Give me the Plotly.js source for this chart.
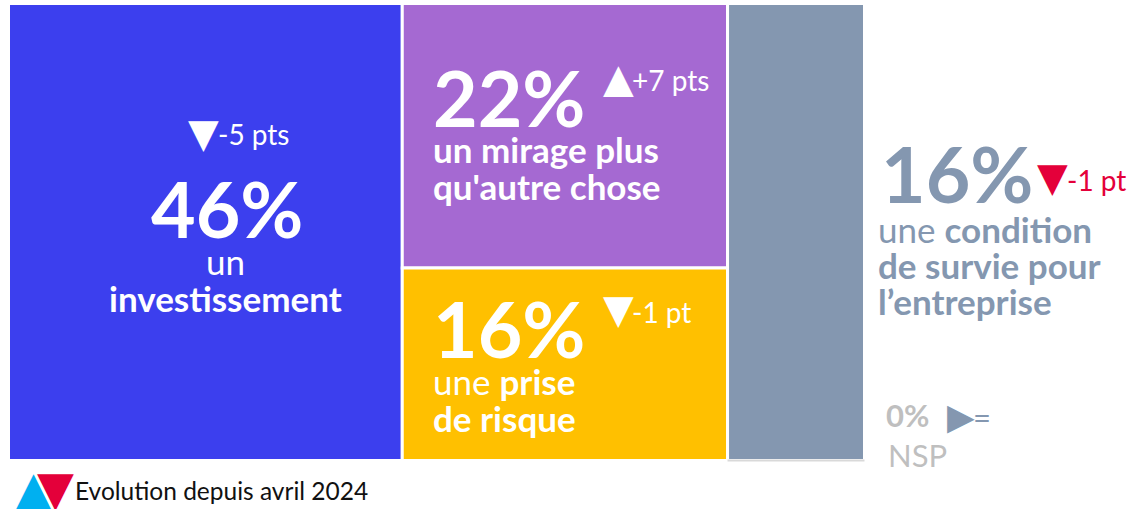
<!DOCTYPE html>
<html><head><meta charset="utf-8">
<script src="https://cdn.plot.ly/plotly-3.0.1.min.js"></script>
<style>html,body{margin:0;padding:0;background:#fff}</style>
</head><body><div id="chart" style="width:1133px;height:509px"></div>
<script>
// ---------------- DATA ----------------
const categories = ['un investissement', "un mirage plus qu'autre chose", 'une prise de risque', 'une condition de survie pour l’entreprise', 'NSP'];
const values = [46, 22, 16, 16, 0];
const changes = ['-5 pts', '+7 pts', '-1 pt', '-1 pt', '='];
const trends = ['down', 'up', 'down', 'down', 'flat'];
const columns = [0, 1, 1, 2, 2];
const labelLines = [
  ['un', '<b>investissement</b>'],
  ['<b>un mirage plus</b>', "<b>qu'autre chose</b>"],
  ['une <b>prise</b>', '<b>de risque</b>'],
  ['une <b>condition</b>', '<b>de survie pour</b>', '<b>l’entreprise</b>'],
  ['NSP']
];
const legendLabel = 'Evolution depuis avril 2024';

// ---------------- STYLE ----------------
const tileColors = ['#3C3FEE', '#A569D2', '#FFC000', '#8497B0', '#FFFFFF'];
const slate = '#8497B0', red = '#E4003A', cyan = '#00B0F0', light = '#BFBFBF';
const W = 1133, H = 509;
const plotPx = {x0: 8.5, x1: 864.5, top: 3.5, bottom: 460.5};
const LATO = 'Lato, "Open Sans", sans-serif';
const DJV = '"DejaVu Sans", sans-serif';

// ---------------- GEOMETRY (from data) ----------------
const colTotals = [0, 0, 0];
values.forEach((v, i) => colTotals[columns[i]] += v);
const colStarts = [];
let acc = 0;
colTotals.forEach(t => { colStarts.push(acc); acc += t; });
const total = acc;
const colFill = [100, 100, 100];
const tiles = values.map((v, i) => {
  const c = columns[i];
  const share = v / colTotals[c] * 100;
  const top = colFill[c];
  colFill[c] -= share;
  return {x0: colStarts[c], x1: colStarts[c] + colTotals[c], top: top, base: top - share, share: share};
});

const kx = (plotPx.x1 - plotPx.x0) / total;
const ky = (plotPx.bottom - plotPx.top) / 100;
const xrange = [-plotPx.x0 / kx, (W - plotPx.x0) / kx];
const yrange = [-(H - plotPx.bottom) / ky, 100 + plotPx.top / ky];

const barIdx = values.map((v, i) => i).filter(i => values[i] > 0);
const bars = {
  type: 'bar',
  x: barIdx.map(i => (tiles[i].x0 + tiles[i].x1) / 2),
  width: barIdx.map(i => tiles[i].x1 - tiles[i].x0),
  base: barIdx.map(i => tiles[i].base),
  y: barIdx.map(i => tiles[i].share),
  text: barIdx.map(i => categories[i]),
  hoverinfo: 'text',
  textposition: 'none',
  marker: {color: barIdx.map(i => tileColors[i]), line: {color: '#FFFFFF', width: 3}},
  showlegend: false
};
// zero-valued NSP tile: drawn as a thin rule at its base
const nsp = tiles[4];
const nspLine = {
  type: 'scatter', mode: 'lines',
  x: [nsp.x0, nsp.x1], y: [nsp.base, nsp.base],
  line: {color: '#D9D9D9', width: 2}, hoverinfo: 'skip', showlegend: false
};

// ---------------- TEXT ----------------
const anns = [];
// single-line text: anchor at data point (x,y), dx px right, baseline dy px below
function txt(x, y, dx, dy, text, size, color, opts) {
  opts = opts || {};
  const fam = opts.family || LATO;
  const k = fam === DJV ? 0.346 : 0.387;
  anns.push({
    xref: 'x', yref: 'y', x: x, y: y, xanchor: opts.xanchor || 'left', yanchor: 'middle',
    xshift: dx, yshift: -(dy - k * size), showarrow: false, borderpad: 0,
    text: text, font: {family: fam, size: size, color: color}
  });
}
const triChar = {down: '▼', up: '▲', flat: '▶'};
const BIG = 77, LBL = 35, EVO = 28, TRI = 40;

// tile 0 : investissement (centered block)
let t = tiles[0];
txt(t.x0, t.top, 178, 143, triChar[trends[0]], TRI, '#fff', {family: DJV});
txt(t.x0, t.top, 208, 141.5, changes[0], EVO, '#fff');
txt(t.x0, t.top, 218, 234.5, '<b>' + values[0] + '%</b>', BIG, '#fff', {xanchor: 'center'});
txt(t.x0, t.top, 217, 271.5, labelLines[0][0], LBL, '#fff', {xanchor: 'center'});
txt(t.x0, t.top, 217, 308.5, labelLines[0][1], LBL, '#fff', {xanchor: 'center'});

// tiles 1 & 2 : middle column, left-aligned blocks
[1, 2].forEach(i => {
  const tt = tiles[i];
  const base = i === 1 ? 123 : 90;
  txt(tt.x0, tt.top, 30, base, '<b>' + values[i] + '%</b>', BIG, '#fff');
  txt(tt.x0, tt.top, 200, base - 35, triChar[trends[i]], TRI, '#fff', {family: DJV});
  txt(tt.x0, tt.top, 229, base - 35.5, changes[i], EVO, '#fff');
  labelLines[i].forEach((l, j) => txt(tt.x0, tt.top, 30, base + 36.5 + j * 37, l, LBL, '#fff'));
});

// tile 3 : condition (text outside, right of column)
t = tiles[3];
txt(t.x1, t.top, 15, 199.5, '<b>' + values[3] + '%</b>', BIG, slate);
txt(t.x1, t.top, 171, 187.5, triChar[trends[3]], TRI, red, {family: DJV});
txt(t.x1, t.top, 201, 187.5, changes[3], EVO, red);
labelLines[3].forEach((l, j) => txt(t.x1, t.top, 12, 239.5 + j * 36, l, LBL, slate));

// tile 4 : NSP
t = tiles[4];
txt(t.x1, t.base, 20, -33.5, '<b>' + values[4] + '%</b>', 31, light);
txt(t.x1, t.base, 81, -32, triChar[trends[4]], 36, slate, {family: DJV});
txt(t.x1, t.base, 107, -31.5, changes[4], 31, slate);
txt(t.x1, t.base, 22, 6.5, labelLines[4][0], 31, light);

// legend (bottom-left of figure)
function ltxt(dx, dyFromBottom, text, size, color, family) {
  const k = family === DJV ? 0.346 : 0.387;
  anns.push({xref: 'paper', yref: 'paper', x: 0, y: 0, xanchor: 'left', yanchor: 'middle',
    xshift: dx, yshift: dyFromBottom + k * size, showarrow: false, borderpad: 0,
    text: text, font: {family: family, size: size, color: color}});
}
ltxt(14, 4, '▲', 48, cyan, DJV);
ltxt(36, 4, '▼', 48, red, DJV);
ltxt(74, 9, legendLabel, 24.5, '#111', LATO);

const layout = {
  width: W, height: H,
  margin: {l: 0, r: 0, t: 0, b: 0},
  paper_bgcolor: '#fff', plot_bgcolor: '#fff',
  barmode: 'overlay',
  xaxis: {range: xrange, visible: false, fixedrange: true},
  yaxis: {range: yrange, visible: false, fixedrange: true},
  annotations: anns,
  showlegend: false
};
Plotly.newPlot('chart', [bars, nspLine], layout, {displayModeBar: false, staticPlot: true});
</script></body></html>
